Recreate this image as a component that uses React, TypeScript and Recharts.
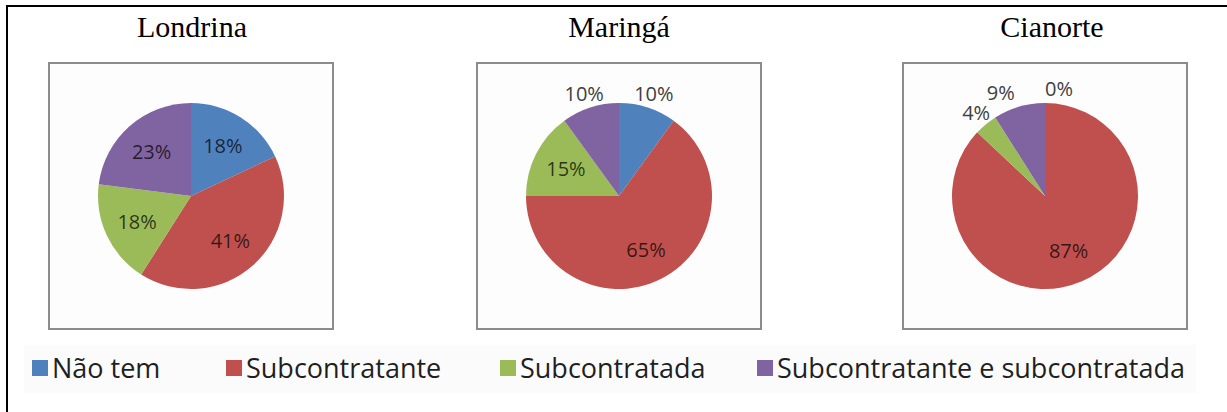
import { PieChart, Pie, Cell } from "recharts";

const CITIES = ["Londrina", "Maringá", "Cianorte"];
const CATEGORIES = [
  "Não tem",
  "Subcontratante",
  "Subcontratada",
  "Subcontratante e subcontratada",
];
const LONDRINA = [18, 41, 18, 23];
const MARINGA = [10, 65, 15, 10];
const CIANORTE = [0, 87, 4, 9];
const SERIES = [LONDRINA, MARINGA, CIANORTE];

const COLORS = ["#4f81bd", "#c0504d", "#9bbb59", "#8064a2"];

const LABEL_FONT = "'Open Sans', 'DejaVu Sans', sans-serif";
const LABEL_SIZE = 20;
const RAD = Math.PI / 180;

// slices under this share get their label outside, like Excel's best fit
const OUTSIDE_BELOW = 12;

const textWidth = (s: string) =>
  [...s].reduce((w, ch) => w + (ch === "%" ? 0.84 : 0.572), 0) * LABEL_SIZE;

// outside labels sit on the radius, then get nudged apart when they crowd
function outsideOffsets(values: number[]) {
  const total = values.reduce((a, b) => a + b, 0);
  let cum = 0;
  const items: { i: number; dx: number; dy: number; w: number }[] = [];
  values.forEach((v, i) => {
    const mid = 90 - (360 * (cum + v / 2)) / total;
    cum += v;
    if (v >= OUTSIDE_BELOW) return;
    items.push({
      i,
      dx: Math.cos(mid * RAD),
      dy: -Math.sin(mid * RAD),
      w: textWidth(`${v}%`),
    });
  });
  return items;
}

function makeLabel(values: number[]) {
  return (props: any) => {
    const { cx, cy, midAngle, outerRadius, value, index } = props;
    const cos = Math.cos(-midAngle * RAD);
    const sin = Math.sin(-midAngle * RAD);
    const inside = value >= OUTSIDE_BELOW;
    let x: number;
    let y: number;
    if (inside) {
      const r = outerRadius * 0.64;
      x = cx + r * cos;
      y = cy + r * sin;
    } else {
      const r = outerRadius + 15;
      const pts = outsideOffsets(values).map((o) => ({
        ...o,
        x: cx + r * o.dx,
        y: cy + r * o.dy,
      }));
      pts.sort((a, b) => a.x - b.x);
      for (let k = 1; k < pts.length; k++) {
        const a = pts[k - 1];
        const b = pts[k];
        if (Math.abs(a.y - b.y) > 18) continue;
        const need = (a.w + b.w) / 2 + 30;
        const gap = b.x - a.x;
        if (gap < need) {
          a.x -= (need - gap) / 2;
          b.x += (need - gap) / 2;
        }
      }
      const me = pts.find((p) => p.i === index);
      x = me ? me.x : cx + r * cos;
      y = me ? me.y : cy + r * sin;
    }
    return (
      <text
        key={`l-${index}`}
        x={x}
        y={y}
        textAnchor="middle"
        dominantBaseline="central"
        fill={inside ? "#000" : "#404040"}
        fillOpacity={inside ? 0.72 : 1}
        fontSize={LABEL_SIZE}
        fontFamily={LABEL_FONT}
      >
        {`${value}%`}
      </text>
    );
  };
}

const BOX_LEFT = [48, 476, 902];
const TITLE_X = [192, 619, 1052];
const LEGEND_LEFT = [32, 226, 500, 757];

function CityPie({ values, left }: { values: number[]; left: number }) {
  const data = CATEGORIES.map((name, i) => ({ name, value: values[i] }));
  return (
    <div
      style={{
        position: "absolute",
        left,
        top: 62,
        width: 286,
        height: 268,
        boxSizing: "border-box",
        border: "2px solid #8c8c8c",
        background: "#fdfdfd",
      }}
    >
      <PieChart width={282} height={264}>
        <Pie
          data={data}
          dataKey="value"
          cx="50%"
          cy="50%"
          outerRadius={93}
          startAngle={90}
          endAngle={-270}
          stroke="none"
          labelLine={false}
          label={makeLabel(values)}
          isAnimationActive={false}
        >
          {data.map((d, i) => (
            <Cell key={d.name} fill={COLORS[i]} />
          ))}
        </Pie>
      </PieChart>
    </div>
  );
}

export default function App() {
  return (
    <div
      style={{
        position: "absolute",
        left: 0,
        top: 0,
        width: 1227,
        height: 412,
        overflow: "hidden",
        background: "#fff",
      }}
    >
      <div
        style={{
          position: "absolute",
          left: 6,
          top: 5,
          width: 1260,
          height: 440,
          border: "2px solid #000",
        }}
      />
      {CITIES.map((city, i) => (
        <div
          key={city}
          style={{
            position: "absolute",
            left: TITLE_X[i] - 150,
            top: 12,
            width: 300,
            textAlign: "center",
            fontFamily: "'Liberation Serif', 'Times New Roman', serif",
            fontWeight: 400,
            fontSize: 30,
            lineHeight: "30px",
            color: "#000",
          }}
        >
          {city}
        </div>
      ))}
      {SERIES.map((vals, i) => (
        <CityPie key={CITIES[i]} values={vals} left={BOX_LEFT[i]} />
      ))}
      <div
        style={{
          position: "absolute",
          left: 24,
          top: 345,
          width: 1172,
          height: 48,
          background: "#fbfbfb",
        }}
      />
      {CATEGORIES.map((c, i) => (
        <div
          key={c}
          style={{
            position: "absolute",
            left: LEGEND_LEFT[i],
            top: 350,
            display: "flex",
            alignItems: "center",
            whiteSpace: "nowrap",
            fontFamily: LABEL_FONT,
            fontSize: 27,
            lineHeight: "36px",
            color: "#1f1f1f",
          }}
        >
          <span
            style={{
              width: 16,
              height: 16,
              background: COLORS[i],
              marginRight: 4,
              display: "inline-block",
            }}
          />
          <span>{c}</span>
        </div>
      ))}
    </div>
  );
}
